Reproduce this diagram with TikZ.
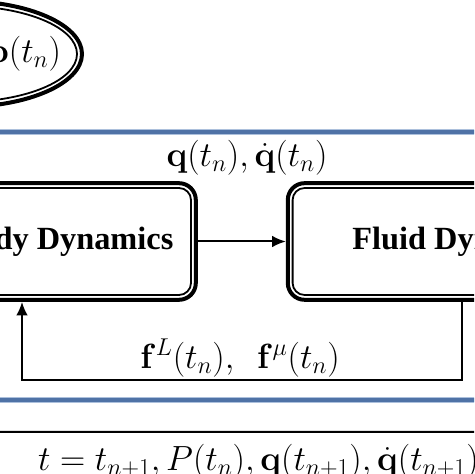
\documentclass[tikz,border=0pt]{standalone}
\usepackage[no-math]{fontspec}
\setmainfont{Liberation Serif}
\usetikzlibrary{positioning, arrows.meta, shapes.geometric}
\definecolor{bandDark}{RGB}{79,114,166}
\definecolor{bandLight}{RGB}{172,192,220}

\begin{document}
\begin{tikzpicture}[x=0.25mm, y=0.25mm,
    block/.style={draw, line width=0.45mm, rounded corners=3mm, minimum width=84.5mm,
      minimum height=26.75mm, outer sep=1.7mm, font=\fontsize{23}{27}\selectfont\bfseries},
    frame/.style={line width=1mm, rounded corners=4.2mm},
    flow/.style={line width=0.5mm, -{Latex[length=3.4mm,width=2.9mm]}},
    lbl/.style={font=\fontsize{24}{29}\selectfont},
    band/.style={draw=bandLight, double=bandDark, double distance=0.9mm, line width=0.35mm},
    startnode/.style={ellipse, draw, line width=0.45mm, minimum width=57.5mm, minimum height=24mm}]

  \useasboundingbox (0,0) rectangle (474,474);
  \clip (0,0) rectangle (474,474);

  % outer loop
  \draw[band] (-60,74) rectangle (540,342);

  % start of the step
  \node[startnode] (start) at (-38,420) {};
  \draw[line width=1mm] (start.center) ellipse [x radius=120, y radius=53];
  \node[lbl, font=\fontsize{27}{32}\selectfont, anchor=east] (starttxt) at (66,420) {$\mathbf{p}(t_n)$};

  % the two solvers
  \node[block] (body) at (22,232.5) {Rigid-Body Dynamics};
  \node[block, right=22mm of body] (fluid) {Fluid Dynamics};
  \foreach \b in {body,fluid}
    \draw[frame] ([shift={(0.5mm,0.5mm)}]\b.south west) rectangle ([shift={(-0.5mm,-0.5mm)}]\b.north east);

  \draw[flow] (body) -- (fluid);
  \draw[flow] (fluid.south) -- ++(0,-78) -| (body.south);

  \node[lbl] (qlab) at (247,316) {$\mathbf{q}(t_n), \dot{\mathbf{q}}(t_n)$};
  \node[lbl] (flab) at (240,116) {$\mathbf{f}^L(t_n),\ \ \mathbf{f}^{\mu}(t_n)$};

  % next step
  \node[lbl, draw, line width=0.5mm, rounded corners=3mm, anchor=west, minimum height=15mm,
    inner xsep=19.25mm] (update) at (-40,12)
    {$t = t_{n+1}, P(t_n), \mathbf{q}(t_{n+1}), \dot{\mathbf{q}}(t_{n+1})$};
\end{tikzpicture}
\end{document}
